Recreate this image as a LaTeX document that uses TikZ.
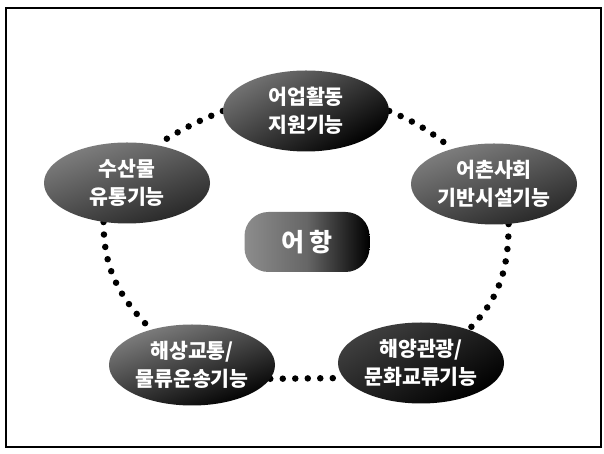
\documentclass[tikz,border=0pt]{standalone}
\usepackage{fontspec}
\newfontfamily\kr{Noto Sans CJK KR}
\usetikzlibrary{shapes.geometric}
\pgfdeclarelayer{bg}
\pgfsetlayers{bg,main}
\begin{document}
\begin{tikzpicture}[x=1pt,y=1pt,
  fn/.style={ellipse, minimum width=166pt, minimum height=81pt, inner sep=0pt,
    text=white, font=\kr\bfseries\fontsize{20.5}{28}\selectfont, align=center},
  dotline/.style={line width=6.5pt, line cap=round, dash pattern=on 0pt off 12.5pt, black}]
\useasboundingbox (0,0) rectangle (604,454);
\draw[line width=1.6pt] (6,7) rectangle (601,446);

\node[fn, top color=black!55, bottom color=black, shading angle=30] (top) at (306,343) {어업활동\\지원기능};
\node[fn, top color=black!50, bottom color=black!85, shading angle=20] (left) at (127,271) {수산물\\유통기능};
\node[fn, top color=black!50, bottom color=black!85, shading angle=20] (right) at (494,270) {어촌사회\\기반시설기능};
\node[fn, top color=black!50, bottom color=black, shading angle=20] (bl) at (192,89) {해상교통/\\물류운송기능};
\node[fn, top color=black!75, bottom color=black, shading angle=30] (br) at (421,91) {해양관광/\\문화교류기능};

\node[rounded corners=24pt, minimum width=125pt, minimum height=60pt, inner sep=0pt,
  left color=black!45, right color=black, middle color=black!60,
  text=white, font=\kr\bfseries\fontsize{25}{28}\selectfont] (hub) at (307,212) {어 항};

\begin{pgfonlayer}{bg}
\fill[white] (0,0) rectangle (604,454);
\draw[dotline] (top.west) to[bend right=5] (left.52);
\draw[dotline] (top.east) to[bend left=8] (right.140);
\draw[dotline] (left.239) to[out=270, in=135] (bl.139);
\draw[dotline] (right.290) to[out=270, in=45] (br.35);
\draw[dotline] (bl.-10) -- (br.191);
\end{pgfonlayer}
\end{tikzpicture}
\end{document}
